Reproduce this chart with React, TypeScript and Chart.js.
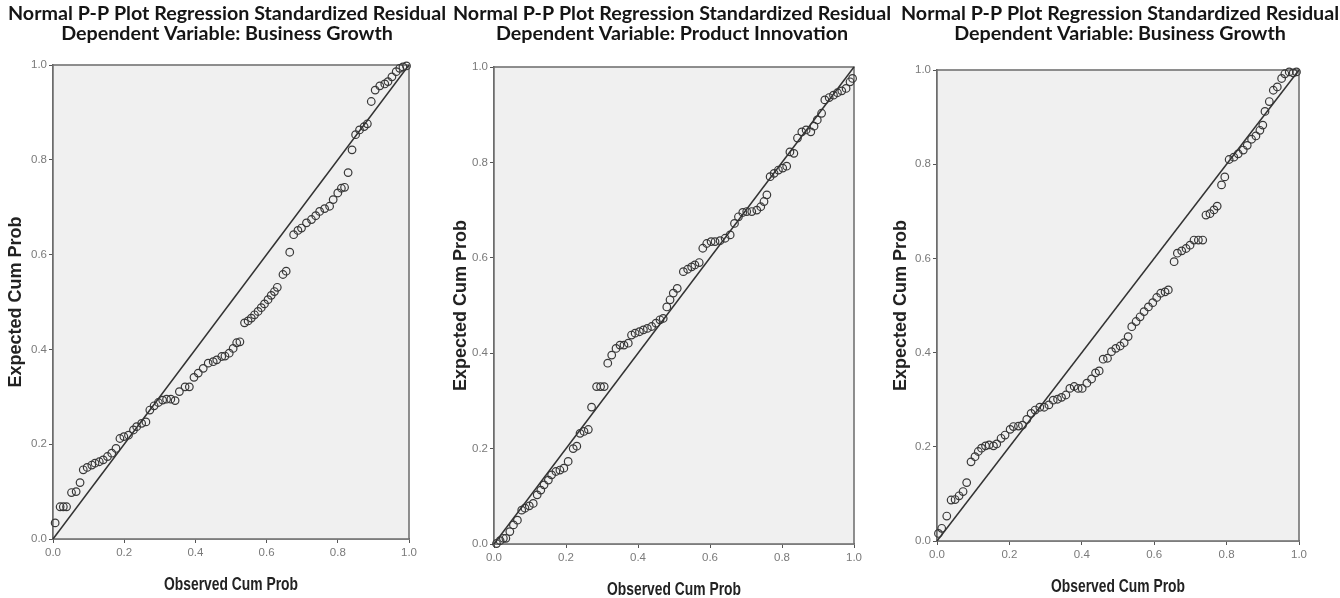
import React, { useEffect, useRef } from "react";
import { Chart, registerables } from "chart.js";

Chart.register(...registerables);

// ---------- text ----------
const chartTitle = "Normal P-P Plot Regression Standardized Residual";
const subtitles = [
  "Dependent Variable: Business Growth",
  "Dependent Variable: Product Innovation",
  "Dependent Variable: Business Growth",
];
const xAxisTitle = "Observed Cum Prob";
const yAxisTitle = "Expected Cum Prob";
const tickValues = [0, 0.2, 0.4, 0.6, 0.8, 1.0];

// ---------- data: reference diagonal ----------
const diagonalObserved = [0, 1];
const diagonalExpected = [0, 1];

// ---------- data: panel 1 (Business Growth) ----------
const observed1 = [0.006, 0.02, 0.029, 0.038, 0.052, 0.065, 0.076, 0.085, 0.096, 0.109, 0.118, 0.13, 0.141, 0.153, 0.165, 0.177, 0.188, 0.199, 0.212, 0.226, 0.235, 0.249, 0.261, 0.272, 0.284, 0.296, 0.308, 0.319, 0.331, 0.343, 0.355, 0.371, 0.383, 0.396, 0.408, 0.422, 0.436, 0.45, 0.46, 0.474, 0.483, 0.495, 0.506, 0.516, 0.525, 0.538, 0.548, 0.557, 0.566, 0.576, 0.585, 0.594, 0.604, 0.613, 0.622, 0.63, 0.646, 0.655, 0.665, 0.676, 0.688, 0.698, 0.712, 0.726, 0.738, 0.749, 0.763, 0.777, 0.787, 0.8, 0.81, 0.819, 0.829, 0.84, 0.85, 0.861, 0.874, 0.883, 0.894, 0.905, 0.918, 0.932, 0.941, 0.952, 0.964, 0.974, 0.983, 0.993];
const expected1 = [0.034, 0.068, 0.068, 0.068, 0.098, 0.1, 0.119, 0.146, 0.151, 0.156, 0.16, 0.163, 0.167, 0.174, 0.181, 0.191, 0.212, 0.216, 0.219, 0.23, 0.237, 0.244, 0.247, 0.272, 0.281, 0.288, 0.293, 0.295, 0.295, 0.292, 0.311, 0.321, 0.321, 0.341, 0.35, 0.36, 0.371, 0.374, 0.378, 0.385, 0.386, 0.392, 0.402, 0.414, 0.416, 0.456, 0.46, 0.466, 0.473, 0.48, 0.488, 0.496, 0.505, 0.514, 0.522, 0.531, 0.558, 0.565, 0.605, 0.642, 0.651, 0.656, 0.667, 0.674, 0.682, 0.691, 0.697, 0.702, 0.716, 0.73, 0.74, 0.742, 0.773, 0.821, 0.853, 0.863, 0.87, 0.876, 0.923, 0.947, 0.956, 0.96, 0.965, 0.975, 0.986, 0.993, 0.996, 0.998];

// ---------- data: panel 2 (Product Innovation) ----------
const observed2 = [0.007, 0.017, 0.026, 0.033, 0.044, 0.054, 0.065, 0.077, 0.086, 0.098, 0.109, 0.12, 0.13, 0.139, 0.151, 0.16, 0.172, 0.183, 0.194, 0.206, 0.22, 0.23, 0.239, 0.25, 0.262, 0.271, 0.285, 0.296, 0.306, 0.316, 0.327, 0.339, 0.35, 0.361, 0.373, 0.382, 0.392, 0.404, 0.415, 0.426, 0.438, 0.45, 0.461, 0.47, 0.48, 0.489, 0.498, 0.509, 0.526, 0.538, 0.549, 0.558, 0.57, 0.58, 0.591, 0.603, 0.614, 0.628, 0.642, 0.656, 0.668, 0.679, 0.691, 0.702, 0.716, 0.73, 0.741, 0.75, 0.758, 0.767, 0.778, 0.79, 0.802, 0.813, 0.822, 0.833, 0.843, 0.855, 0.867, 0.88, 0.889, 0.898, 0.91, 0.919, 0.931, 0.943, 0.954, 0.966, 0.978, 0.989, 0.996];
const expected2 = [0.001, 0.007, 0.012, 0.012, 0.026, 0.04, 0.05, 0.071, 0.075, 0.08, 0.085, 0.103, 0.113, 0.124, 0.134, 0.145, 0.152, 0.155, 0.159, 0.173, 0.2, 0.205, 0.232, 0.236, 0.24, 0.287, 0.33, 0.33, 0.33, 0.379, 0.396, 0.41, 0.417, 0.417, 0.421, 0.438, 0.442, 0.445, 0.449, 0.452, 0.456, 0.463, 0.47, 0.473, 0.497, 0.512, 0.526, 0.536, 0.571, 0.576, 0.581, 0.585, 0.59, 0.62, 0.63, 0.634, 0.634, 0.636, 0.641, 0.648, 0.672, 0.686, 0.695, 0.697, 0.697, 0.7, 0.707, 0.718, 0.732, 0.77, 0.777, 0.784, 0.788, 0.792, 0.822, 0.819, 0.851, 0.864, 0.868, 0.864, 0.876, 0.889, 0.903, 0.931, 0.936, 0.941, 0.946, 0.95, 0.955, 0.969, 0.976];

// ---------- data: panel 3 (Business Growth) ----------
const observed3 = [0.004, 0.013, 0.027, 0.039, 0.05, 0.061, 0.072, 0.082, 0.094, 0.105, 0.114, 0.123, 0.134, 0.144, 0.156, 0.165, 0.177, 0.188, 0.202, 0.211, 0.225, 0.236, 0.248, 0.26, 0.271, 0.284, 0.296, 0.309, 0.321, 0.333, 0.344, 0.356, 0.367, 0.379, 0.39, 0.401, 0.414, 0.427, 0.438, 0.448, 0.459, 0.471, 0.482, 0.494, 0.506, 0.517, 0.528, 0.538, 0.55, 0.561, 0.572, 0.584, 0.596, 0.607, 0.618, 0.63, 0.639, 0.655, 0.664, 0.676, 0.688, 0.699, 0.71, 0.722, 0.734, 0.743, 0.754, 0.765, 0.774, 0.786, 0.795, 0.807, 0.82, 0.832, 0.846, 0.857, 0.869, 0.881, 0.892, 0.9, 0.906, 0.918, 0.929, 0.94, 0.952, 0.961, 0.973, 0.984, 0.993];
const expected3 = [0.016, 0.027, 0.053, 0.087, 0.088, 0.096, 0.105, 0.124, 0.168, 0.179, 0.19, 0.197, 0.202, 0.204, 0.202, 0.206, 0.218, 0.225, 0.237, 0.243, 0.244, 0.246, 0.258, 0.271, 0.278, 0.284, 0.284, 0.289, 0.299, 0.301, 0.305, 0.31, 0.324, 0.328, 0.324, 0.324, 0.335, 0.344, 0.357, 0.361, 0.386, 0.388, 0.402, 0.409, 0.414, 0.421, 0.434, 0.455, 0.466, 0.476, 0.487, 0.497, 0.506, 0.517, 0.526, 0.529, 0.533, 0.593, 0.611, 0.616, 0.621, 0.628, 0.639, 0.639, 0.639, 0.692, 0.695, 0.703, 0.711, 0.756, 0.773, 0.81, 0.815, 0.822, 0.83, 0.84, 0.853, 0.86, 0.872, 0.883, 0.912, 0.933, 0.957, 0.964, 0.982, 0.992, 0.996, 0.994, 0.996];

// ---------- layout (positions only) ----------
const H = 598;
const layouts = [
  { left: 0, width: 454, plotLeft: 53, plotRight: 409, plotTop: 65, plotBottom: 539, yTitleX: 16, xTitleY: 585.5 },
  { left: 448, width: 448, plotLeft: 494, plotRight: 854, plotTop: 67, plotBottom: 544, yTitleX: 461, xTitleY: 590 },
  { left: 888, width: 464, plotLeft: 937, plotRight: 1299, plotTop: 70, plotBottom: 541, yTitleX: 901, xTitleY: 587.5 },
];

const TITLE_SIZE = 19.7;
const TITLE_LH = 20;
const TITLE_PAD_TOP = 4;
const AXIS_TITLE_SIZE = 18;
const AXIS_TITLE_LH = 18;
const X_TITLE_CONDENSE = 0.77;

const plotFrame = {
  id: "plotFrame",
  beforeDatasetsDraw(chart: any) {
    const { ctx, chartArea } = chart;
    ctx.save();
    ctx.fillStyle = "#f0f0f0";
    ctx.fillRect(chartArea.left, chartArea.top, chartArea.right - chartArea.left, chartArea.bottom - chartArea.top);
    ctx.strokeStyle = "#737373";
    ctx.lineWidth = 1.6;
    ctx.strokeRect(chartArea.left, chartArea.top, chartArea.right - chartArea.left, chartArea.bottom - chartArea.top);
    ctx.restore();
  },
};

// Draws the x-axis title horizontally condensed, as in the reference picture.
const condensedXTitle = {
  id: "condensedXTitle",
  afterLayout(chart: any) {
    const s = chart.scales.x;
    if (!s || s.__condensed) return;
    const orig = s.drawTitle.bind(s);
    s.drawTitle = function () {
      const ctx = s.ctx;
      const cx = (s.left + s.right) / 2;
      ctx.save();
      ctx.translate(cx, 0);
      ctx.scale(X_TITLE_CONDENSE, 1);
      ctx.translate(-cx, 0);
      orig();
      ctx.restore();
    };
    s.__condensed = true;
  },
};

function toPoints(xs: number[], ys: number[]) {
  return xs.map((x, i) => ({ x, y: ys[i] }));
}

function PPPlot({ idx, observed, expected }: { idx: number; observed: number[]; expected: number[] }) {
  const ref = useRef<HTMLCanvasElement>(null);
  const L = layouts[idx];
  useEffect(() => {
    const tickFont = { family: "'Liberation Sans', Arial, sans-serif", size: 11.5 };
    const chart = new Chart(ref.current as HTMLCanvasElement, {
      type: "scatter",
      data: {
        datasets: [
          {
            data: toPoints(diagonalObserved, diagonalExpected),
            showLine: true,
            borderColor: "#333333",
            borderWidth: 1.5,
            pointRadius: 0,
            clip: false,
          } as any,
          {
            data: toPoints(observed, expected),
            pointRadius: 3.8,
            pointBorderWidth: 1.2,
            borderColor: "#383838",
            backgroundColor: "rgba(0,0,0,0)",
            clip: false,
          } as any,
        ],
      },
      options: {
        responsive: false,
        animation: false,
        devicePixelRatio: 1,
        layout: { padding: 0 },
        plugins: {
          legend: { display: false },
          tooltip: { enabled: false },
          title: {
            display: true,
            text: [chartTitle, subtitles[idx]],
            color: "#151515",
            font: { family: "Lato, 'Open Sans', sans-serif", weight: "bold", size: TITLE_SIZE, lineHeight: TITLE_LH / TITLE_SIZE },
            padding: { top: TITLE_PAD_TOP, bottom: L.plotTop - TITLE_PAD_TOP - 2 * TITLE_LH },
          },
        },
        scales: {
          x: {
            type: "linear",
            position: "bottom",
            min: 0,
            max: 1,
            afterBuildTicks: (s: any) => { s.ticks = tickValues.map((v) => ({ value: v })); },
            ticks: {
              callback: (v: any) => Number(v).toFixed(1),
              font: tickFont,
              color: "#7a7a7a",
              padding: 3,
              maxRotation: 0,
              autoSkip: false,
            },
            grid: { drawOnChartArea: false, drawTicks: true, tickLength: 4, color: "#555", lineWidth: 1 },
            border: { display: true, color: "#555", width: 1.6 },
            title: {
              display: true,
              text: xAxisTitle,
              color: "#222",
              font: { family: "'Liberation Sans', Arial, sans-serif", weight: "bold", size: AXIS_TITLE_SIZE, lineHeight: AXIS_TITLE_LH / AXIS_TITLE_SIZE },
              padding: { top: 0, bottom: H - L.xTitleY - AXIS_TITLE_LH / 2 },
            },
            afterFit: (s: any) => {
              s.height = H - L.plotBottom;
              s.paddingLeft = 0;
              s.paddingRight = 0;
            },
          },
          y: {
            type: "linear",
            position: "left",
            min: 0,
            max: 1,
            afterBuildTicks: (s: any) => { s.ticks = tickValues.map((v) => ({ value: v })); },
            ticks: {
              callback: (v: any) => Number(v).toFixed(1),
              font: tickFont,
              color: "#7a7a7a",
              padding: 2,
              autoSkip: false,
            },
            grid: { drawOnChartArea: false, drawTicks: true, tickLength: 4, color: "#555", lineWidth: 1 },
            border: { display: true, color: "#555", width: 1.6 },
            title: {
              display: true,
              text: yAxisTitle,
              color: "#222",
              font: { family: "'Liberation Sans', Arial, sans-serif", weight: "bold", size: AXIS_TITLE_SIZE, lineHeight: AXIS_TITLE_LH / AXIS_TITLE_SIZE },
              padding: { top: L.yTitleX - L.left - AXIS_TITLE_LH / 2, bottom: 0 },
            },
            afterFit: (s: any) => {
              s.width = L.plotLeft - L.left;
              s.paddingTop = 0;
              s.paddingBottom = 0;
            },
          },
          spacer: {
            type: "linear",
            position: "right",
            display: true,
            ticks: { display: false },
            grid: { display: false },
            border: { display: false },
            afterFit: (s: any) => {
              s.width = L.left + L.width - L.plotRight;
              s.paddingTop = 0;
              s.paddingBottom = 0;
            },
          },
        },
      } as any,
      plugins: [plotFrame, condensedXTitle],
    });
    return () => chart.destroy();
  }, []);
  return (
    <canvas
      ref={ref}
      width={L.width}
      height={H}
      style={{ position: "absolute", left: L.left, top: 0, width: L.width, height: H }}
    />
  );
}

export default function App() {
  return (
    <div style={{ position: "absolute", left: 0, top: 0, width: 1340, height: H, overflow: "hidden", background: "#ffffff" }}>
      <PPPlot idx={0} observed={observed1} expected={expected1} />
      <PPPlot idx={1} observed={observed2} expected={expected2} />
      <PPPlot idx={2} observed={observed3} expected={expected3} />
    </div>
  );
}
